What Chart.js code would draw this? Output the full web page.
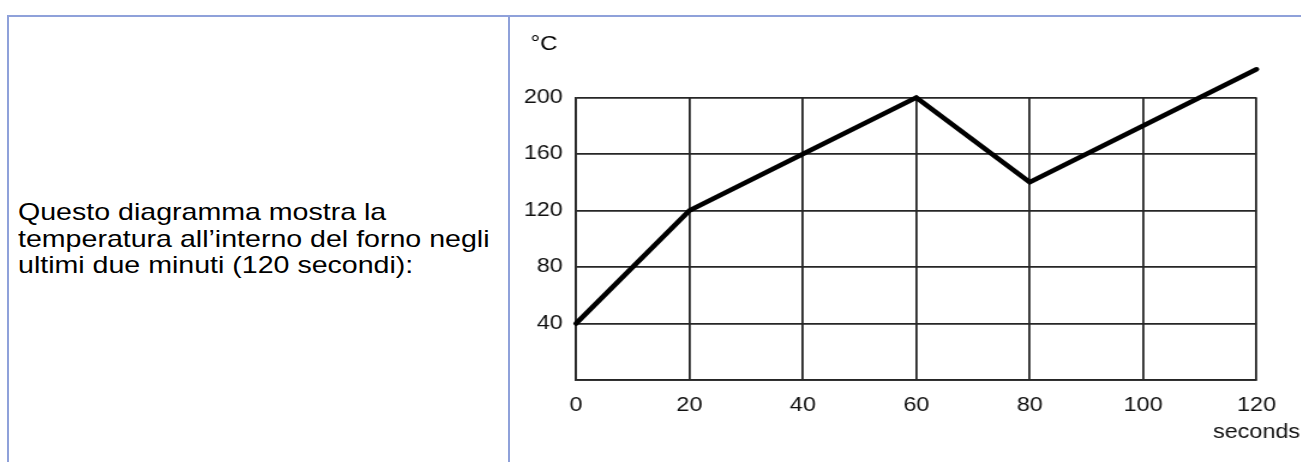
<!DOCTYPE html>
<html><head><meta charset="utf-8">
<script src="https://cdn.jsdelivr.net/npm/chart.js@4"></script>
<style>
html,body{margin:0;padding:0;background:#fff;width:1301px;height:462px;overflow:hidden;}
.b{position:absolute;background:#8fa1da;}
#txt{position:absolute;left:18px;top:199px;font-family:"Liberation Sans",Arial,sans-serif;font-size:24px;line-height:26.7px;color:#000;transform:scaleX(1.19);transform-origin:0 0;white-space:nowrap;}
#wrap{position:absolute;left:511px;top:17px;width:658px;height:445px;transform:scaleX(1.2);transform-origin:0 0;}
</style></head><body>
<div class="b" style="left:7px;top:15px;width:1294px;height:2px"></div>
<div class="b" style="left:7px;top:15px;width:2px;height:447px"></div>
<div class="b" style="left:508px;top:15px;width:2px;height:447px"></div>
<div id="txt">Questo diagramma mostra la<br>temperatura all’interno del forno negli<br>ultimi due minuti (120 secondi):</div>
<div id="wrap"><canvas id="c" width="658" height="445"></canvas></div>
<script>
const seconds = [0, 20, 40, 60, 80, 100, 120];
const temperature = [40, 120, 160, 200, 140, 180, 220];
const xTickLabels = [0, 20, 40, 60, 80, 100, 120];
const yTickLabels = [40, 80, 120, 160, 200];
const xUnit = 'seconds';
const yUnit = '°C';

const FONT = '"Liberation Sans", Arial, sans-serif';
const gridColor = '#262626';

const unitPlugin = {
  id: 'unit',
  afterDraw(chart) {
    const ctx = chart.ctx;
    ctx.save();
    ctx.font = '20px ' + FONT;
    ctx.fillStyle = '#000';
    ctx.textAlign = 'center';
    ctx.textBaseline = 'middle';
    ctx.fillText(yUnit, chart.scales.y.left + 27.5, 27);
    ctx.restore();
  }
};

new Chart(document.getElementById('c'), {
  type: 'line',
  data: {
    datasets: [{
      data: seconds.map((x, i) => ({x: x, y: temperature[i]})),
      borderColor: '#000',
      borderWidth: 4.5,
      pointRadius: 0,
      tension: 0,
      clip: false,
      borderJoinStyle: 'miter',
      borderCapStyle: 'round'
    }]
  },
  plugins: [unitPlugin],
  options: {
    responsive: false,
    animation: false,
    devicePixelRatio: 1,
    layout: {padding: {top: 80.5, right: 36.75, left: 0, bottom: 0}},
    plugins: {legend: {display: false}, tooltip: {enabled: false}},
    scales: {
      x: {
        type: 'linear', min: 0, max: 120,
        afterFit(s) { s.height = 82; s.paddingLeft = 0; s.paddingRight = 0; },
        ticks: {
          stepSize: 20, padding: 12, color: '#111', maxRotation: 0,
          font: {family: FONT, size: 19.5, lineHeight: 1.4},
          callback: (v) => xTickLabels.includes(v) ? (v === 120 ? [String(v), xUnit] : String(v)) : ''
        },
        grid: {color: gridColor, lineWidth: 1.8, drawTicks: false},
        border: {display: true, color: gridColor, width: 1.8}
      },
      y: {
        min: 0, max: 200,
        afterFit(s) { s.width = 54.2; s.paddingTop = 0; s.paddingBottom = 0; },
        ticks: {
          stepSize: 40, padding: 11, color: '#111',
          font: {family: FONT, size: 19.5},
          callback: (v) => yTickLabels.includes(v) ? String(v) : ''
        },
        grid: {color: gridColor, lineWidth: 1.8, drawTicks: false},
        border: {display: true, color: gridColor, width: 1.8}
      }
    }
  }
});
</script>
</body></html>
